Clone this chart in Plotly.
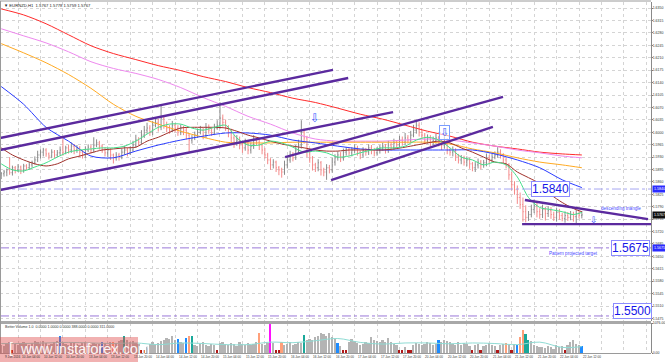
import plotly.graph_objects as go

# ---------------- data (EURNZD, H1) ----------------
closes = [
    1.5883, 1.5888, 1.5894, 1.5886, 1.5900,
    1.5894, 1.5902, 1.5894, 1.5905, 1.5900,
    1.5908, 1.5914, 1.5922, 1.5936, 1.5944,
    1.5950, 1.5939, 1.5933, 1.5944, 1.5936,
    1.5942, 1.5950, 1.5944, 1.5956, 1.5950,
    1.5961, 1.5950, 1.5956, 1.5944, 1.5936,
    1.5950, 1.5958, 1.5950, 1.5964, 1.5970,
    1.5961, 1.5950, 1.5942, 1.5950, 1.5936,
    1.5928, 1.5936, 1.5930, 1.5944, 1.5950,
    1.5942, 1.5950, 1.5964, 1.5978, 1.5972,
    1.5992, 1.6006, 1.6012, 1.6000, 1.6020,
    1.6028, 1.6014, 1.6040, 1.6020, 1.6012,
    1.6006, 1.6020, 1.6012, 1.6000, 1.6012,
    1.6006, 1.5992, 1.5978, 1.5984, 1.5992,
    1.6000, 1.6006, 1.5992, 1.6012, 1.6006,
    1.5998, 1.6012, 1.6020, 1.6040, 1.6028,
    1.6014, 1.6000, 1.5984, 1.5972, 1.5978,
    1.5964, 1.5956, 1.5970, 1.5950, 1.5961,
    1.5978, 1.5972, 1.5964, 1.5950, 1.5936,
    1.5922, 1.5908, 1.5916, 1.5900, 1.5894,
    1.5888, 1.5908, 1.5922, 1.5936, 1.5928,
    1.5950, 1.5964, 1.6000, 1.5984, 1.5950,
    1.5928, 1.5908, 1.5900, 1.5914, 1.5894,
    1.5888, 1.5900, 1.5894, 1.5916, 1.5928,
    1.5936, 1.5928, 1.5944, 1.5950, 1.5942,
    1.5950, 1.5956, 1.5944, 1.5936, 1.5950,
    1.5944, 1.5956, 1.5950, 1.5942, 1.5950,
    1.5956, 1.5961, 1.5950, 1.5964, 1.5958,
    1.5970, 1.5964, 1.5978, 1.5972, 1.5984,
    1.5978, 1.5992, 1.6006, 1.6020, 1.6000,
    1.5992, 1.5978, 1.5984, 1.5972, 1.5978,
    1.5984, 1.5972, 1.5964, 1.5978, 1.5950,
    1.5944, 1.5950, 1.5933, 1.5922, 1.5928,
    1.5916, 1.5922, 1.5911, 1.5900, 1.5908,
    1.5916, 1.5908, 1.5914, 1.5928, 1.5922,
    1.5930, 1.5936, 1.5944, 1.5936, 1.5922,
    1.5908, 1.5880, 1.5852, 1.5838, 1.5816,
    1.5796, 1.5776, 1.5760, 1.5768, 1.5782,
    1.5793, 1.5776, 1.5768, 1.5782, 1.5771,
    1.5779, 1.5768, 1.5760, 1.5774, 1.5765,
    1.5757, 1.5765, 1.5760, 1.5768, 1.5762,
    1.5771, 1.5765, 1.5767,
]
first_open = 1.5878
# wick lengths in pips above the body / below the body
wick_up = [
    5, 6, 4, 36, 6, 5, 8, 4, 6, 5,
    8, 6, 10, 12, 8, 6, 5, 4, 8, 6,
    8, 10, 39, 6, 8, 10, 6, 8, 5, 6,
    10, 8, 6, 22, 10, 6, 5, 8, 6, 5,
    4, 8, 6, 10, 12, 6, 10, 12, 15, 8,
    14, 12, 15, 8, 12, 14, 10, 36, 8, 10,
    8, 12, 6, 8, 10, 6, 8, 5, 8, 10,
    10, 12, 6, 14, 10, 8, 12, 14, 45, 10,
    8, 6, 10, 8, 14, 10, 6, 12, 8, 10,
    14, 8, 6, 5, 6, 6, 5, 8, 4, 5,
    6, 12, 10, 12, 8, 14, 15, 34, 10, 6,
    6, 5, 6, 10, 5, 6, 10, 8, 12, 10,
    10, 8, 10, 8, 6, 8, 10, 6, 5, 8,
    6, 10, 8, 6, 8, 8, 10, 6, 12, 8,
    12, 8, 12, 10, 14, 8, 12, 15, 14, 8,
    8, 6, 10, 8, 10, 12, 6, 8, 10, 5,
    6, 10, 5, 6, 8, 6, 10, 6, 5, 8,
    10, 6, 8, 12, 8, 10, 10, 14, 8, 5,
    6, 5, 8, 10, 12, 14, 20, 18, 10, 14,
    18, 8, 10, 14, 8, 12, 10, 8, 12, 10,
    8, 12, 10, 10, 8, 10, 8, 11,
]
wick_dn = [
    10, 8, 12, 6, 8, 10, 6, 12, 8, 6,
    6, 8, 5, 6, 10, 12, 8, 10, 6, 8,
    6, 8, 10, 6, 10, 8, 12, 8, 14, 10,
    8, 6, 10, 8, 6, 10, 8, 10, 12, 14,
    16, 8, 10, 6, 8, 10, 6, 5, 8, 10,
    6, 8, 10, 10, 8, 6, 12, 8, 10, 12,
    10, 6, 12, 10, 8, 14, 12, 34, 10, 6,
    8, 6, 12, 8, 10, 8, 6, 5, 10, 12,
    10, 14, 12, 16, 10, 12, 14, 8, 12, 10,
    8, 10, 14, 12, 10, 12, 14, 10, 12, 15,
    16, 8, 10, 8, 10, 6, 8, 10, 16, 20,
    14, 16, 12, 10, 16, 12, 22, 10, 8, 10,
    8, 12, 8, 10, 8, 10, 8, 10, 12, 8,
    10, 8, 12, 10, 8, 10, 8, 10, 8, 10,
    8, 10, 6, 10, 8, 10, 8, 6, 10, 12,
    10, 12, 10, 12, 8, 10, 12, 14, 10, 12,
    10, 12, 14, 10, 12, 10, 12, 14, 10, 12,
    10, 12, 8, 10, 12, 8, 6, 8, 10, 12,
    10, 14, 16, 14, 18, 12, 28, 14, 10, 8,
    10, 16, 12, 10, 20, 10, 12, 10, 12, 12,
    8, 12, 10, 8, 14, 18, 8, 8,
]

# moving averages, read every 8 bars (slow) / every 4 bars (fast)
ma_red = [1.6348, 1.6331, 1.6306, 1.6275, 1.6244, 1.6222, 1.6205, 1.6188, 1.6174,
          1.6157, 1.6143, 1.6126, 1.6112, 1.6096, 1.6084, 1.6068, 1.6051, 1.6037,
          1.6020, 1.6003, 1.5989, 1.5972, 1.5961, 1.5953, 1.5944, 1.5939, 1.5936]
ma_pink = [1.6292, 1.6272, 1.6252, 1.6227, 1.6199, 1.6180, 1.6166, 1.6149, 1.6126,
           1.6098, 1.6073, 1.6045, 1.6023, 1.5998, 1.5981, 1.5975, 1.5975, 1.5975,
           1.5978, 1.5981, 1.5978, 1.5970, 1.5961, 1.5950, 1.5942, 1.5933, 1.5928]
ma_orange = [1.6250, 1.6224, 1.6196, 1.6163, 1.6124, 1.6079, 1.6045, 1.6023, 1.6003,
             1.5986, 1.5972, 1.5970, 1.5970, 1.5972, 1.5972, 1.5972, 1.5972, 1.5972,
             1.5972, 1.5972, 1.5967, 1.5953, 1.5942, 1.5928, 1.5916, 1.5908, 1.5900]
ma_blue = [1.6129, 1.6079, 1.6014, 1.5975, 1.5933, 1.5928, 1.5947, 1.5964, 1.5978,
           1.5989, 1.5998, 1.5998, 1.5992, 1.5978, 1.5970, 1.5961, 1.5953, 1.5950,
           1.5950, 1.5950, 1.5950, 1.5950, 1.5939, 1.5922, 1.5900, 1.5866, 1.5844]
ma_green = [1.5911, 1.5894, 1.5891, 1.5902, 1.5914, 1.5930, 1.5944, 1.5950, 1.5953,
            1.5956, 1.5956, 1.5961, 1.5975, 1.5995, 1.6014, 1.6023, 1.6023, 1.6012,
            1.6006, 1.6014, 1.6020, 1.5984, 1.5964, 1.5964, 1.5975, 1.5970, 1.5958,
            1.5944, 1.5947, 1.5942, 1.5930, 1.5933, 1.5942, 1.5950, 1.5956, 1.5956,
            1.5961, 1.5978, 1.5986, 1.5978, 1.5956, 1.5930, 1.5922, 1.5908, 1.5916,
            1.5908, 1.5874, 1.5816, 1.5788, 1.5782, 1.5776, 1.5768, 1.5774]
ma_brown = [1.5956, 1.5936, 1.5922, 1.5911, 1.5905, 1.5911, 1.5925, 1.5933, 1.5942,
            1.5950, 1.5953, 1.5956, 1.5958, 1.5975, 1.5986, 1.6000, 1.6012, 1.6014,
            1.6014, 1.6014, 1.6012, 1.6003, 1.5992, 1.5984, 1.5975, 1.5967, 1.5961,
            1.5956, 1.5950, 1.5947, 1.5947, 1.5950, 1.5950, 1.5950, 1.5950, 1.5953,
            1.5958, 1.5964, 1.5970, 1.5975, 1.5970, 1.5956, 1.5944, 1.5930, 1.5916,
            1.5911, 1.5888, 1.5872, 1.5855, 1.5824, 1.5802, 1.5785, 1.5776]

# Better Volume
volumes = [
    300, 260, 340, 380, 110, 320, 280, 360, 400, 330,
    290, 350, 420, 380, 310, 440, 360, 300, 340, 390,
    420, 610, 380, 340, 300, 360, 410, 330, 290, 350,
    380, 320, 300, 360, 340, 310, 400, 350, 300, 380,
    400, 360, 420, 470, 610, 450, 380, 420, 360, 330,
    100, 110, 260, 320, 380, 300, 360, 420, 470, 540,
    500, 600, 450, 500, 400, 350, 540, 610, 610, 300,
    260, 330, 380, 300, 250, 340, 290, 120, 360, 400,
    330, 290, 360, 310, 260, 380, 320, 300, 350, 270,
    330, 380, 720, 330, 290, 360, 1076, 350, 100, 110,
    400, 300, 340, 380, 290, 320, 400, 360, 650, 450,
    520, 480, 560, 620, 700, 680, 600, 720, 560, 500,
    360, 250, 110, 100, 380, 500, 420, 360, 300, 340,
    400, 360, 575, 480, 420, 380, 450, 400, 540, 380,
    330, 290, 100, 110, 200, 120, 110, 300, 360, 320,
    280, 330, 400, 360, 300, 340, 470, 380, 470, 430,
    400, 330, 300, 380, 290, 360, 310, 260, 110, 300,
    320, 100, 250, 300, 360, 280, 240, 100, 300, 330,
    360, 280, 100, 320, 290, 575, 825, 680, 470, 430,
    290, 250, 200, 230, 180, 260, 220, 150, 290, 200,
    250, 100, 300, 400, 470, 330, 280, 250,
]
# g=normal, r=low, b=blue, s=climax, t=churn, m=climax churn
volume_kind = (
    "ggggrggggg" "gggggggggg" "gbgggggggg" "ggggggbggg"
    "sgggtggggg" "rrgggggggg" "gggbggbstg" "gggggggrgg"
    "gggggggggg" "ggsgggmgrr" "sgggggggtg" "gggggggggg"
    "bgrrgggggg" "gggggggggg" "ggrrgrrggg" "ggggggbggg"
    "ggggggggrg" "grgggggrgg" "sgrgbssttg" "gggggggggg"
    "grgggggb"
)
volume_avg = [340, 340, 360, 380, 360, 340, 360, 300, 360, 340, 300, 300, 390, 370,
              440, 520, 380, 320, 360, 360, 330, 360, 340, 300, 390, 200, 230]

x_labels = ["9 Jun 2016", "10 Jun 04:00", "10 Jun 12:00", "10 Jun 20:00", "13 Jun 04:00",
            "13 Jun 12:00", "13 Jun 20:00", "14 Jun 04:00", "14 Jun 12:00", "14 Jun 20:00",
            "15 Jun 04:00", "15 Jun 12:00", "15 Jun 20:00", "16 Jun 04:00", "16 Jun 12:00",
            "16 Jun 20:00", "17 Jun 04:00", "17 Jun 12:00", "17 Jun 20:00", "20 Jun 04:00",
            "20 Jun 12:00", "20 Jun 20:00", "21 Jun 04:00", "21 Jun 12:00", "21 Jun 20:00",
            "22 Jun 04:00", "22 Jun 12:00"]
x_label_bars = [0] + list(range(6, 207, 8))
price_ticks = [1.6350, 1.6315, 1.6280, 1.6245, 1.6210, 1.6175, 1.6140, 1.6105, 1.6070,
               1.6035, 1.6000, 1.5965, 1.5930, 1.5895, 1.5860, 1.5825, 1.5790, 1.5755,
               1.5720, 1.5685, 1.5650, 1.5615, 1.5580, 1.5545, 1.5510, 1.5475]

# drawn objects: (bar0, price0, bar1, price1)
channel_lines = [
    (-0.4, 1.5984, 118.3, 1.6176),
    (-0.4, 1.5950, 123.7, 1.6153),
    (-0.4, 1.5837, 139.7, 1.6057),
    (101.2, 1.5930, 178.9, 1.6100),
    (117.6, 1.5865, 175.3, 1.6015),
    (186.7, 1.5809, 230.6, 1.5755),
    (185.7, 1.5741, 231.7, 1.5741),
]
levels = [1.5840, 1.5674, 1.5482]
level_colors = ["#a6a6f2", "#9a78d8", "#9a78d8"]
level_boxes = [("1.5840", 196.0, 1.5840), ("1.5675", 224.2, 1.5674), ("1.5500", 224.9, 1.5497)]
arrows = [(111.9, 1.6040, 12, False), (158.2, 1.5998, 11, True), (211.3, 1.5753, 9, False)]
title_text = "EURNZD,H1  1.5767 1.5778 1.5759 1.5767"
volume_title = "Better Volume 1.0  0.0000 1.0000 0.0000 388.0000 0.0000 311.0000"

# ---------------- figure ----------------
W, H = 665, 362
XD = 651 / W
PY = [1 - 321 / H, 1 - 2 / H]
VY = [1 - 353 / H, 1 - 323 / H]
XR = [-0.43, 231.66]

n = len(closes)
bars = list(range(n))
opens = [first_open] + closes[:-1]
highs = [max(o, c) + u / 10000 for o, c, u in zip(opens, closes, wick_up)]
lows = [min(o, c) - d / 10000 for o, c, d in zip(opens, closes, wick_dn)]

fig = go.Figure()
fig.add_trace(go.Ohlc(
    x=bars, open=opens, high=highs, low=lows, close=closes,
    increasing=dict(line=dict(color="#8a8a8a", width=1)),
    decreasing=dict(line=dict(color="#f48a8a", width=1)),
    tickwidth=0.3, xaxis="x", yaxis="y", hoverinfo="skip", showlegend=False))

slow_x = list(range(0, n, 8)) + [n - 1]
fast_x = list(range(0, n, 4)) + [n - 1]
for ys, xs, col in [(ma_red, slow_x, "#ff2a2a"), (ma_pink, slow_x, "#ee88ee"),
                    (ma_orange, slow_x, "#ffaa22"), (ma_blue, slow_x, "#2a3cff"),
                    (ma_brown, fast_x, "#a0302a"), (ma_green, fast_x, "#44e08a")]:
    fig.add_trace(go.Scatter(x=xs, y=ys, mode="lines", xaxis="x", yaxis="y",
                             line=dict(color=col, width=1, shape="spline", smoothing=0.8),
                             hoverinfo="skip", showlegend=False))

kind_color = {"g": "#b4b4b4", "r": "#b01818", "b": "#1e8cff", "s": "#ffa07a",
              "t": "#1aa89a", "m": "#ff10ff"}
fig.add_trace(go.Bar(x=bars, y=volumes, marker=dict(color=[kind_color[k] for k in volume_kind],
                     line=dict(width=0)), width=0.62, xaxis="x2", yaxis="y2",
                     hoverinfo="skip", showlegend=False))
fig.add_trace(go.Scatter(x=slow_x, y=volume_avg, mode="lines", xaxis="x2", yaxis="y2",
                         line=dict(color="#8fdcd4", width=1, shape="spline"),
                         hoverinfo="skip", showlegend=False))

shapes = []
for lv, lc in zip(levels, level_colors):
    shapes.append(dict(type="line", xref="paper", yref="y", x0=0, x1=XD, y0=lv, y1=lv,
                       line=dict(color=lc, width=1, dash="dashdot")))
for (b0, p0, b1, p1) in channel_lines:
    shapes.append(dict(type="line", xref="x", yref="y", x0=b0, y0=p0, x1=b1, y1=p1,
                       line=dict(color="#5b2a9e", width=2.4)))
# frame / separators
shapes += [
    dict(type="line", xref="paper", yref="paper", x0=0, x1=XD, y0=1 - 1 / H, y1=1 - 1 / H,
         line=dict(color="#9a9a9a", width=1)),
    dict(type="line", xref="paper", yref="paper", x0=0, x1=XD, y0=1 - 322.5 / H, y1=1 - 322.5 / H,
         line=dict(color="#a8a8a8", width=3)),
    dict(type="line", xref="paper", yref="paper", x0=0, x1=XD, y0=1 - 353.5 / H, y1=1 - 353.5 / H,
         line=dict(color="#9a9a9a", width=1)),
    dict(type="line", xref="paper", yref="paper", x0=0.5 / W, x1=0.5 / W, y0=1 - 353.5 / H, y1=1 - 1 / H,
         line=dict(color="#9a9a9a", width=1)),
    # watermark band
    dict(type="rect", xref="paper", yref="paper", x0=0, x1=138 / W, y0=0, y1=1 - 337 / H,
         fillcolor="rgba(222,70,70,0.42)", line=dict(width=0), layer="above"),
]

ann = []
tiny = dict(family="Liberation Sans", size=3.1, color="#333333")
for b, t in zip(x_label_bars, x_labels):
    ann.append(dict(x=b, y=1 - 357 / H, xref="x2", yref="paper", text=t, showarrow=False,
                    xanchor="left", yanchor="middle", xshift=1.5, font=tiny))
ann.append(dict(x=2 / W, y=1 - 5 / H, xref="paper", yref="paper", text="\u25bc " + title_text,
                showarrow=False, xanchor="left", yanchor="middle",
                font=dict(family="Liberation Sans", size=4.2, color="#222222")))
ann.append(dict(x=3 / W, y=1 - 326.5 / H, xref="paper", yref="paper", text=volume_title,
                showarrow=False, xanchor="left", yanchor="middle",
                font=dict(family="Liberation Sans", size=3.6, color="#333333")))
for txt, b, p in level_boxes:
    ann.append(dict(x=b, y=p, xref="x", yref="y", text=txt, showarrow=False,
                    font=dict(family="Liberation Sans", size=12, color="#1515e8"),
                    bgcolor="white", bordercolor="#8c8cff", borderwidth=1, borderpad=0))
ann.append(dict(x=220.9, y=1.57864, xref="x", yref="y", text="descending triangle", showarrow=False,
                font=dict(family="Liberation Sans", size=4.6, color="#4a4aff")))
ann.append(dict(x=204.0, y=1.56595, xref="x", yref="y", text="Pattern projected target", showarrow=False,
                font=dict(family="Liberation Sans", size=4.6, color="#4a4aff")))
for b, p, sz, boxed in arrows:
    ann.append(dict(x=b, y=p, xref="x", yref="y", text="\u21e9", showarrow=False,
                    font=dict(family="DejaVu Sans", size=sz, color="#3a5cff"),
                    bgcolor="rgba(255,255,255,0.6)" if boxed else None,
                    bordercolor="#7a9cff" if boxed else None, borderwidth=1 if boxed else 0,
                    borderpad=0))
# right axis highlight labels
for txt, p, bg in [("1.5840", 1.5840, "#2b2bff"), ("1.5767", 1.5767, "#111111"), ("1.5675", 1.5674, "#2b2bff")]:
    ann.append(dict(x=652 / W, y=p, xref="paper", yref="y", text=txt, showarrow=False,
                    xanchor="left", font=dict(family="Liberation Sans", size=3.6, color="white"),
                    bgcolor=bg, borderpad=1))
ann.append(dict(x=18 / W, y=1 - 349 / H, xref="paper", yref="paper", text="www.instaforex.com",
                showarrow=False, xanchor="left", yanchor="middle",
                font=dict(family="Liberation Sans", size=14.5, color="rgba(255,255,255,0.92)")))
ann.append(dict(x=7 / W, y=1 - 348 / H, xref="paper", yref="paper", text="[",
                showarrow=False, xanchor="left", yanchor="middle",
                font=dict(family="Liberation Sans", size=14, color="rgba(255,255,255,0.9)")))

grid_vals = list(range(6, 232, 8))
gridstyle = dict(showgrid=True, gridcolor="#d4d4d4", griddash="dot", gridwidth=1, zeroline=False)
axfont = dict(family="Liberation Sans", size=3.5, color="#333333")
fig.update_layout(
    width=W, height=H, margin=dict(l=0, r=0, t=0, b=0),
    paper_bgcolor="white", plot_bgcolor="white", showlegend=False, bargap=0,
    xaxis=dict(domain=[0, XD], range=XR, anchor="y", tickvals=grid_vals, showticklabels=False,
               rangeslider=dict(visible=False), showline=False, fixedrange=True, **gridstyle),
    yaxis=dict(domain=PY, range=[1.54678, 1.63674], anchor="x", side="right",
               tickvals=price_ticks, ticktext=["%.4f" % v for v in price_ticks],
               tickfont=axfont, ticks="outside", ticklen=1, tickcolor="#808080",
               ticklabelstandoff=-1,
               showline=True, linecolor="#8a8a8a", linewidth=1, automargin=False, **gridstyle),
    xaxis2=dict(domain=[0, XD], range=XR, anchor="y2", tickvals=grid_vals, showticklabels=False,
                showline=False, **gridstyle),
    yaxis2=dict(domain=VY, range=[0, 1076], anchor="x2", side="right",
                tickvals=[0, 1076], ticktext=["0.00", "1076.00"],
                tickfont=axfont, ticks="outside", ticklen=1, tickcolor="#808080",
                ticklabelstandoff=-1,
                showgrid=False, zeroline=False, showline=True, linecolor="#8a8a8a", automargin=False),
    shapes=shapes, annotations=ann,
)
fig.write_html("out.html")
